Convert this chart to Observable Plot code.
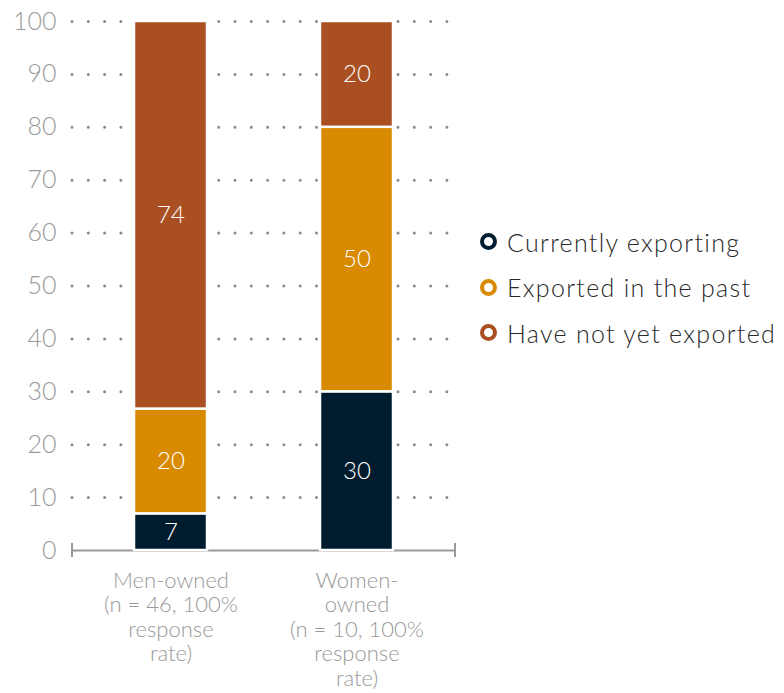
<!DOCTYPE html>
<html><head><meta charset="utf-8">
<script src="https://cdn.jsdelivr.net/npm/d3@7"></script>
<script src="https://cdn.jsdelivr.net/npm/@observablehq/plot@0.6"></script>
<style>
body{margin:0;background:#fff;font-family:Lato,"Open Sans",sans-serif;}
#wrap{position:relative;width:784px;height:693px;}
#legend{position:absolute;left:480px;top:219px;font-size:25px;letter-spacing:1.3px;color:#2a2a2a;font-weight:300;}
.item{display:flex;align-items:center;height:45.5px;}
.sw{width:9px;height:9px;border-radius:50%;border:4.5px solid;margin-right:10px;background:#fff;}
svg text{font-weight:300;}
</style></head>
<body><div id="wrap"><div id="chart"></div><div id="legend"></div></div>
<script>
const groups = ["Men-owned\n(n = 46, 100%\nresponse\nrate)", "Women-\nowned\n(n = 10, 100%\nresponse\nrate)"];
const statuses = ["Currently exporting", "Exported in the past", "Have not yet exported"];
const colors = ["#011c2e", "#d88a00", "#a94f22"];
const menValues = [7, 20, 74];
const womenValues = [30, 50, 20];
const yTicks = [0, 10, 20, 30, 40, 50, 60, 70, 80, 90, 100];

const data = [];
[menValues, womenValues].forEach((vals, gi) => vals.forEach((v, si) =>
  data.push({group: groups[gi], status: statuses[si], value: v, order: si})));

const plot = Plot.plot({
  width: 784, height: 693,
  marginLeft: 72, marginRight: 329, marginTop: 21, marginBottom: 143,
  style: {fontFamily: "Lato, 'Open Sans', sans-serif", background: "#fff"},
  x: {domain: groups, paddingInner: 0.61, paddingOuter: 0.33, label: null},
  y: {domain: [0, 1], label: null},
  color: {domain: statuses, range: colors},
  marks: [
    Plot.gridY(yTicks.filter(d => d > 0).map(d => d / 100), {stroke: "#8a8a8a", strokeOpacity: 1, strokeWidth: 3, strokeDasharray: "0,16.3", strokeLinecap: "round"}),
    Plot.axisY(yTicks.map(d => d / 100), {tickSize: 0, tickPadding: 16, fontSize: 25, fill: "#999", label: null, tickFormat: d => Math.round(d * 100), style: {letterSpacing: "2.5px"}}),
    Plot.axisX({tickSize: 0, tickPadding: 20, fontSize: 22, fill: "#999", lineHeight: 1.11, label: null, textAnchor: "middle", style: {letterSpacing: "1.8px"}}),
    Plot.ruleY([0], {stroke: "#999", strokeWidth: 2}),
    Plot.barY(data, Plot.stackY({x: "group", y: "value", fill: "status", order: "order", offset: "normalize", stroke: "white", strokeWidth: 2.5})),
    Plot.text(data, Plot.stackY({x: "group", y: "value", order: "order", offset: "normalize", text: "value", fill: "white", fontSize: 24, style: {letterSpacing: "1px"}}))
  ]
});
document.getElementById("chart").appendChild(plot);

// end ticks of the x baseline, at the x scale's range ends
const xr = plot.scale("x").range, y0 = plot.scale("y").apply(0);
const svg = d3.select(plot);
xr.forEach(x => svg.append("line").attr("x1", x).attr("x2", x).attr("y1", y0 - 7).attr("y2", y0 + 7)
  .attr("stroke", "#999").attr("stroke-width", 2));

const leg = document.getElementById("legend");
statuses.forEach((s, i) => {
  const d = document.createElement("div"); d.className = "item";
  d.innerHTML = `<span class="sw" style="border-color:${colors[i]}"></span><span>${s}</span>`;
  leg.appendChild(d);
});
</script></body></html>
